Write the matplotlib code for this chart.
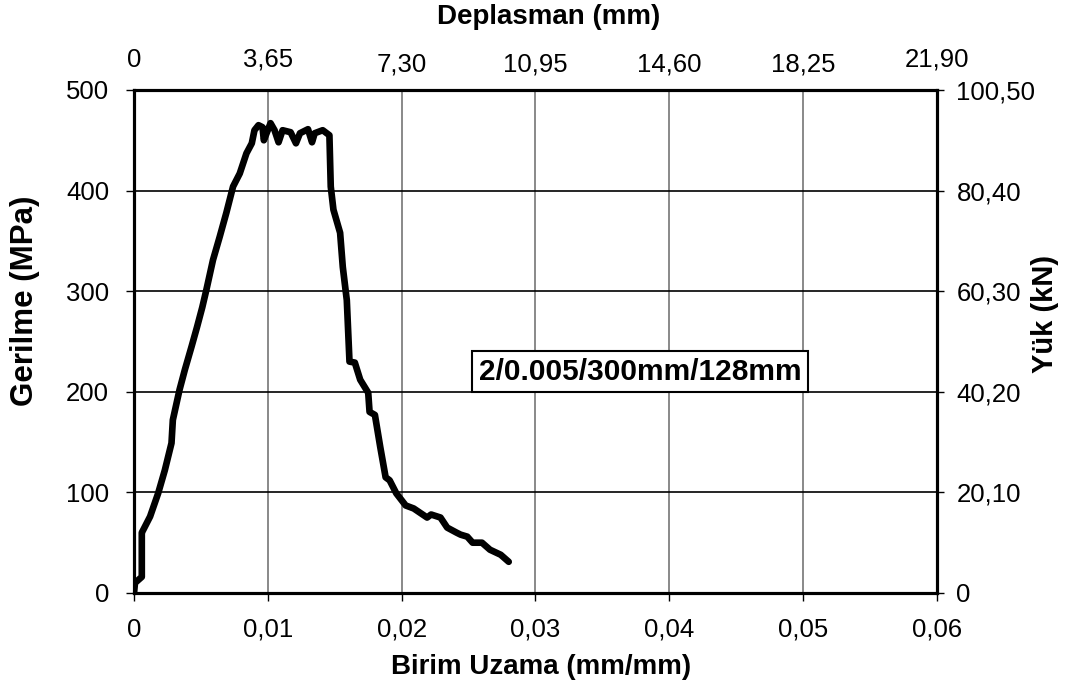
import numpy as np
import matplotlib.pyplot as plt
from matplotlib.transforms import ScaledTranslation

plt.rcParams['font.family'] = ['Liberation Sans', 'DejaVu Sans']

# stress-strain curve
strain = [0, 0.00007, 0.00058, 0.00058, 0.0007, 0.0012, 0.0018, 0.0023, 0.0028, 0.0029,
          0.0034, 0.0038, 0.0043, 0.0047, 0.0051, 0.0054, 0.0059, 0.0064, 0.0069, 0.0074,
          0.0079, 0.0084, 0.0088, 0.0090, 0.0093, 0.0096, 0.0097, 0.0102, 0.0105, 0.0108,
          0.0111, 0.0117, 0.0121, 0.0124, 0.0130, 0.0133, 0.0135, 0.0141, 0.0146, 0.0147,
          0.0149, 0.0154, 0.0156, 0.0159, 0.0161, 0.0165, 0.0169, 0.0175, 0.0176, 0.0180,
          0.0184, 0.0188, 0.0191, 0.0196, 0.0203, 0.0209, 0.0219, 0.0222, 0.0229, 0.0234,
          0.0241, 0.0244, 0.0249, 0.0253, 0.0260, 0.0266, 0.0274, 0.0280]
stress = [0, 10, 16, 60, 63, 76, 99, 122, 149, 172,
          202, 222, 245, 264, 284, 301, 331, 354, 378, 404,
          417, 437, 447, 460, 465, 463, 450, 467, 460, 448,
          460, 458, 447, 457, 461, 448, 457, 460, 455, 404,
          381, 358, 324, 291, 230, 229, 212, 199, 180, 177,
          145, 115, 112, 99, 87, 84, 75, 78, 75, 65,
          60, 58, 56, 50, 50, 43, 38, 31]

x_ticks = [0, 0.01, 0.02, 0.03, 0.04, 0.05, 0.06]
x_labels = ['0', '0,01', '0,02', '0,03', '0,04', '0,05', '0,06']
top_labels = ['0', '3,65', '7,30', '10,95', '14,60', '18,25', '21,90']
y_ticks = [0, 100, 200, 300, 400, 500]
right_labels = ['0', '20,10', '40,20', '60,30', '80,40', '100,50']
box_text = '2/0.005/300mm/128mm'

fig = plt.figure(figsize=(10.74, 6.9), dpi=100)
ax = fig.add_axes([0.1248, 0.1406, 0.7476, 0.729])

ax.plot(strain, stress, color='black', lw=4.8, solid_capstyle='round', solid_joinstyle='round', zorder=3)

ax.set_xlim(0, 0.06)
ax.set_ylim(0, 500)
ax.set_xticks(x_ticks)
ax.set_xticklabels(x_labels)
ax.set_yticks(y_ticks)
ax.set_yticklabels([str(v) for v in y_ticks])
ax.tick_params(axis='x', labelsize=18.5, length=6, width=1, direction='out', pad=12)
ax.tick_params(axis='y', labelsize=18.5, length=6, width=1, direction='out', pad=12)

for xv in x_ticks[1:-1]:
    ax.axvline(xv, color='#808080', lw=1.3, zorder=1)
for yv in y_ticks[1:-1]:
    ax.axhline(yv, color='black', lw=1.2, zorder=1)

for s in ax.spines.values():
    s.set_linewidth(2.2)

ax.set_xlabel('Birim Uzama (mm/mm)', fontsize=20, fontweight='bold')
ax.xaxis.label.set_va('center')
ax.xaxis.set_label_coords(0.507, -0.147)
ax.set_ylabel('Gerilme (MPa)', fontsize=22.5, fontweight='bold')
ax.yaxis.label.set_va('center')
ax.yaxis.set_label_coords(-0.136, 0.58)

# top axis: displacement
ax_top = ax.twiny()
ax_top.set_xlim(ax.get_xlim())
ax_top.set_xticks(x_ticks)
ax_top.set_xticklabels(top_labels)
ax_top.tick_params(labelsize=18.5, length=0, pad=10)
ax_top.set_xlabel('Deplasman (mm)', fontsize=20, fontweight='bold')
ax_top.xaxis.label.set_va('center')
ax_top.xaxis.set_label_coords(0.516, 1.145)
# Excel staggers a few of the top labels slightly upward
for i, lab in enumerate(ax_top.get_xticklabels()):
    if i in (0, 1, 6):
        lab.set_transform(lab.get_transform() + ScaledTranslation(0, 3 / 72, fig.dpi_scale_trans))

# right axis: load
ax_r = ax.twinx()
ax_r.set_ylim(ax.get_ylim())
ax_r.set_yticks(y_ticks)
ax_r.set_yticklabels(right_labels)
ax_r.tick_params(labelsize=18.5, length=5, width=1, direction='out', pad=9)
ax_r.set_ylabel('Yük (kN)', fontsize=21, fontweight='bold')
ax_r.yaxis.set_label_position('right')
ax_r.yaxis.label.set_va('center')
ax_r.yaxis.set_label_coords(1.134, 0.554)

for a in (ax_top, ax_r):
    for s in a.spines.values():
        s.set_linewidth(2.2)

ax.text(0.0378, 220, box_text, fontsize=21.5, fontweight='bold', ha='center', va='center',
        bbox=dict(boxstyle='square,pad=0.22', facecolor='white', edgecolor='black', lw=1.5),
        zorder=5)

fig.savefig('out.png', dpi=100)
